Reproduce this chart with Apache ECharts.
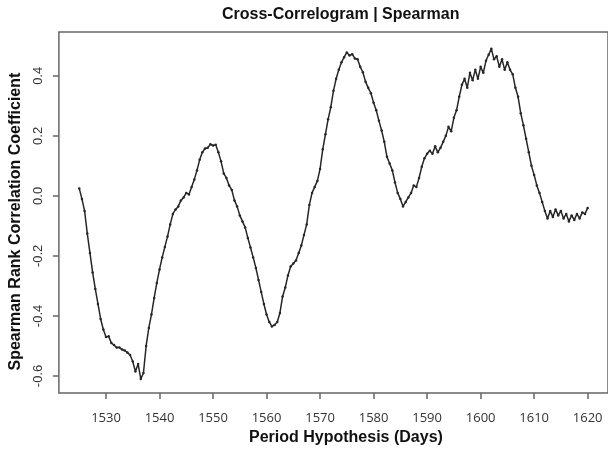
<!DOCTYPE html>
<html>
<head>
<meta charset="utf-8">
<title>Cross-Correlogram | Spearman</title>
<script src="https://cdn.jsdelivr.net/npm/echarts@6.0.0/dist/echarts.min.js"></script>
<style>
  html, body { margin: 0; padding: 0; background: #fff; }
  #chart { width: 608px; height: 451px; }
</style>
</head>
<body>
<div id="chart"></div>
<script>
// period hypothesis (days), 0.5 day steps from 1525 to 1620
var days = [];
for (var d = 1525; d <= 1620; d += 0.5) days.push(d);

// correlation values, one per day above
var rho = [
  0.025, -0.01, -0.05, -0.125, -0.19, -0.255, -0.31, -0.36, -0.41, -0.445,
  -0.47, -0.468, -0.49, -0.497, -0.505, -0.505, -0.512, -0.515, -0.522, -0.53,
  -0.552, -0.585, -0.56, -0.61, -0.59, -0.5, -0.44, -0.395, -0.34, -0.29,
  -0.245, -0.205, -0.17, -0.135, -0.095, -0.06, -0.045, -0.035, -0.015, -0.005,
  0.01, 0.005, 0.03, 0.055, 0.085, 0.12, 0.145, 0.158, 0.16, 0.172,
  0.168, 0.17, 0.145, 0.115, 0.075, 0.06, 0.035, 0.02, -0.015, -0.035,
  -0.065, -0.085, -0.105, -0.14, -0.172, -0.205, -0.24, -0.28, -0.32, -0.36,
  -0.395, -0.42, -0.435, -0.43, -0.42, -0.39, -0.335, -0.305, -0.265, -0.235,
  -0.225, -0.215, -0.19, -0.165, -0.13, -0.095, -0.03, 0.01, 0.03, 0.05,
  0.09, 0.155, 0.205, 0.255, 0.295, 0.35, 0.39, 0.42, 0.445, 0.462,
  0.478, 0.468, 0.472, 0.458, 0.455, 0.43, 0.412, 0.38, 0.36, 0.342,
  0.31, 0.285, 0.25, 0.218, 0.18, 0.13, 0.108, 0.085, 0.045, 0.01,
  -0.01, -0.035, -0.02, -0.005, 0.01, 0.035, 0.03, 0.06, 0.097, 0.125,
  0.14, 0.15, 0.14, 0.165, 0.145, 0.16, 0.18, 0.2, 0.23, 0.215,
  0.26, 0.285, 0.33, 0.37, 0.39, 0.36, 0.41, 0.385, 0.42, 0.39,
  0.43, 0.41, 0.45, 0.47, 0.49, 0.455, 0.465, 0.43, 0.455, 0.42,
  0.445, 0.42, 0.405, 0.36, 0.33, 0.275, 0.235, 0.19, 0.145, 0.1,
  0.07, 0.035, 0.01, -0.02, -0.05, -0.075, -0.05, -0.07, -0.045, -0.065,
  -0.05, -0.075, -0.06, -0.085, -0.065, -0.08, -0.06, -0.075, -0.055, -0.06,
  -0.04
];

var xTicks = [1530, 1540, 1550, 1560, 1570, 1580, 1590, 1600, 1610, 1620];
var yTicks = [-0.6, -0.4, -0.2, 0.0, 0.2, 0.4];

var points = days.map(function (x, i) { return [x, rho[i]]; });

var myChart = echarts.init(document.getElementById('chart'));
myChart.setOption({
  animation: false,
  title: {
    text: 'Cross-Correlogram | Spearman',
    left: 222,
    top: 7,
    padding: 0,
    textStyle: { fontFamily: 'Liberation Sans', fontSize: 16, fontWeight: 'bold', color: '#111' }
  },
  grid: {
    left: 56, top: 32, bottom: 54, right: -4,
    show: true, borderColor: '#666', borderWidth: 1.5, backgroundColor: '#fff'
  },
  xAxis: {
    type: 'value',
    min: 1521.2,
    max: 1623.8,
    name: 'Period Hypothesis (Days)',
    nameLocation: 'middle',
    nameGap: 35,
    nameTextStyle: { fontFamily: 'Liberation Sans', fontSize: 16, fontWeight: 'bold', color: '#111', padding: [0, 0, 0, 25] },
    axisLine: { show: false, onZero: false },
    splitLine: { show: false },
    axisTick: { show: true, length: 6, customValues: xTicks, lineStyle: { color: '#666', width: 1.5 } },
    axisLabel: {
      customValues: xTicks, margin: 19, fontFamily: 'Open Sans', fontSize: 13, color: '#333',
      formatter: function (v) { return String(v); }
    }
  },
  yAxis: {
    type: 'value',
    min: -0.657,
    max: 0.546,
    name: 'Spearman Rank Correlation Coefficient',
    nameLocation: 'middle',
    nameRotate: 90,
    nameGap: 25,
    nameTextStyle: { fontFamily: 'Liberation Sans', fontSize: 16, fontWeight: 'bold', color: '#111', padding: [0, 18, 0, 0] },
    axisLine: { show: false, onZero: false },
    splitLine: { show: false },
    axisTick: { show: true, length: 6, customValues: yTicks, lineStyle: { color: '#666', width: 1.5 } },
    axisLabel: {
      customValues: yTicks, rotate: 90, margin: 14,
      fontFamily: 'Liberation Sans', fontSize: 13, color: '#333',
      formatter: function (v) { return v.toFixed(1); }
    }
  },
  series: [{
    type: 'line',
    data: points,
    showSymbol: true,
    showAllSymbol: true,
    symbol: 'circle',
    symbolSize: 2.5,
    itemStyle: { color: '#262626' },
    lineStyle: { color: '#262626', width: 1.5 }
  }]
});
</script>
</body>
</html>
